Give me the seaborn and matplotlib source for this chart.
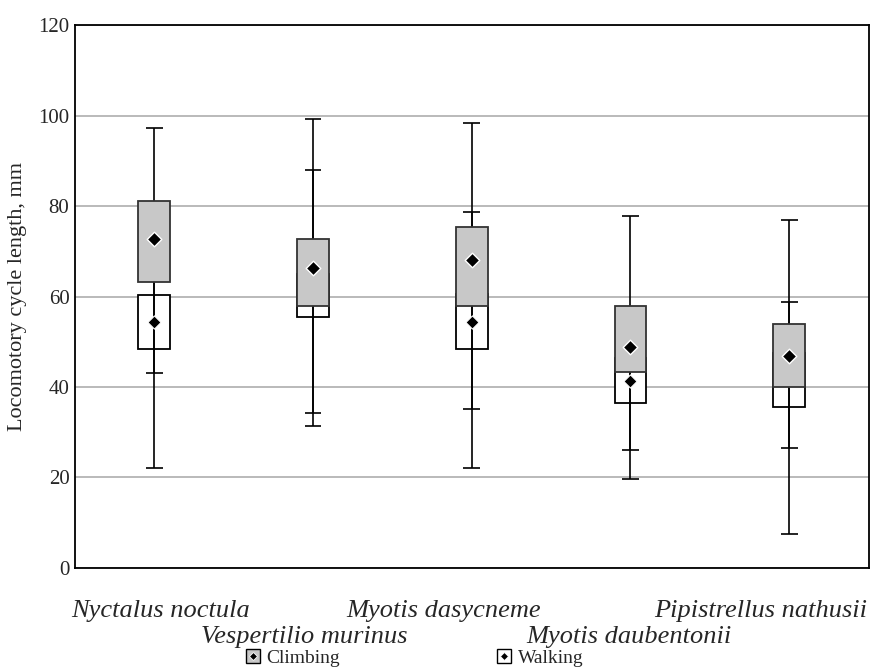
import matplotlib.pyplot as plt
import seaborn as sns
import pandas as pd
import numpy as np
from matplotlib.lines import Line2D
from matplotlib.transforms import ScaledTranslation

# Datos
especies = ["Nyctalus noctula", "Vespertilio murinus", "Myotis dasycneme",
            "Myotis daubentonii", "Pipistrellus nathusii"]

# Climbing (caja gris)
clim_min = [43.1, 34.2, 35.1, 26.0, 26.6]
clim_q1 = [63.3, 57.9, 57.8, 43.4, 39.9]
clim_media = [72.8, 66.4, 68.0, 48.9, 46.9]
clim_q3 = [81.1, 72.8, 75.3, 57.8, 53.9]
clim_max = [97.2, 99.2, 98.4, 77.9, 76.9]

# Walking (caja blanca)
walk_min = [22.2, 31.4, 22.2, 19.6, 7.5]
walk_q1 = [48.3, 55.5, 48.3, 36.4, 35.5]
walk_media = [54.4, 60.5, 54.4, 41.3, 41.5]
walk_q3 = [60.4, 65.0, 60.5, 46.5, 47.5]
walk_max = [72.0, 88.0, 78.7, 55.0, 58.7]

sns.set_style("white")
plt.rcParams['font.family'] = ['Liberation Serif', 'DejaVu Serif']

pos = np.arange(len(especies))
ancho = 0.2
cap = 0.053
gris = '#c8c8c8'

fig = plt.figure(figsize=(8.75, 6.69), dpi=100)
ax = fig.add_axes([0.0857, 0.151, 0.9069, 0.8115])

#Cajas de walking (debajo)
ax.bar(pos, np.array(walk_q3) - np.array(walk_q1), bottom=walk_q1, width=ancho,
       color='white', edgecolor='black', linewidth=1.3, zorder=2)

#Bigotes completos y remates
for mn, mx in [(clim_min, clim_max), (walk_min, walk_max)]:
    ax.vlines(pos, mn, mx, color='black', linewidth=1.2, zorder=3)
    ax.hlines(mn, pos - cap, pos + cap, color='black', linewidth=1.2, zorder=3)
    ax.hlines(mx, pos - cap, pos + cap, color='black', linewidth=1.2, zorder=3)

df_walk = pd.DataFrame({'pos': pos, 'media': walk_media})
sns.scatterplot(data=df_walk, x='pos', y='media', marker='D', s=45, color='black',
                edgecolor='white', linewidth=0.8, ax=ax, zorder=3.5, legend=False)

#Cajas de climbing (encima)
ax.bar(pos, np.array(clim_q3) - np.array(clim_q1), bottom=clim_q1, width=ancho,
       color=gris, edgecolor='#333333', linewidth=1.3, zorder=4)

df_clim = pd.DataFrame({'pos': pos, 'media': clim_media})
sns.scatterplot(data=df_clim, x='pos', y='media', marker='D', s=55, color='black',
                edgecolor='white', linewidth=1.0, ax=ax, zorder=5, legend=False)

ax.set_xlim(-0.5, len(especies) - 0.5)
ax.set_ylim(0, 120)
ax.set_yticks(np.arange(0, 121, 20))
ax.yaxis.grid(True, color='#b4b4b4', linewidth=1.3)
ax.set_axisbelow(True)
for s in ax.spines.values():
    s.set_color('black')
    s.set_linewidth(1.3)

ax.set_xticks(pos)
ax.set_xticklabels(especies, fontsize=19, fontstyle='italic')
ax.tick_params(axis='x', direction='in', length=4, width=1, pad=23)
ax.tick_params(axis='y', direction='in', length=3, width=1, pad=4, labelsize=15)
#Segunda fila de etiquetas (alternadas)
for i, tick in enumerate(ax.xaxis.get_major_ticks()):
    if i % 2 == 1:
        tick.set_pad(42)
ax.set_xlabel('')
ax.set_ylabel('Locomotory cycle length, mm', fontsize=16, labelpad=8)

#Desplazar etiquetas como en el original
desplaz = [6, -9, -28, -2, -29]
for lab, dx in zip(ax.get_xticklabels(), desplaz):
    lab.set_transform(lab.get_transform() + ScaledTranslation(dx / 100, 0, fig.dpi_scale_trans))

#Leyenda
h_clim = (Line2D([], [], marker='s', ms=10, mfc=gris, mec='black', mew=1, ls=''),
          Line2D([], [], marker='D', ms=4.5, mfc='black', mec='white', mew=0.6, ls=''))
h_walk = (Line2D([], [], marker='s', ms=10, mfc='white', mec='black', mew=1, ls=''),
          Line2D([], [], marker='D', ms=4.5, mfc='black', mec='white', mew=0.6, ls=''))
fig.legend([h_clim, h_walk], ['Climbing', 'Walking'], loc='center',
           bbox_to_anchor=(0.473, 0.016), ncol=2, frameon=False, fontsize=14,
           handlelength=0.9, handletextpad=0.25, columnspacing=8.0)

plt.savefig('out.png', dpi=100)
